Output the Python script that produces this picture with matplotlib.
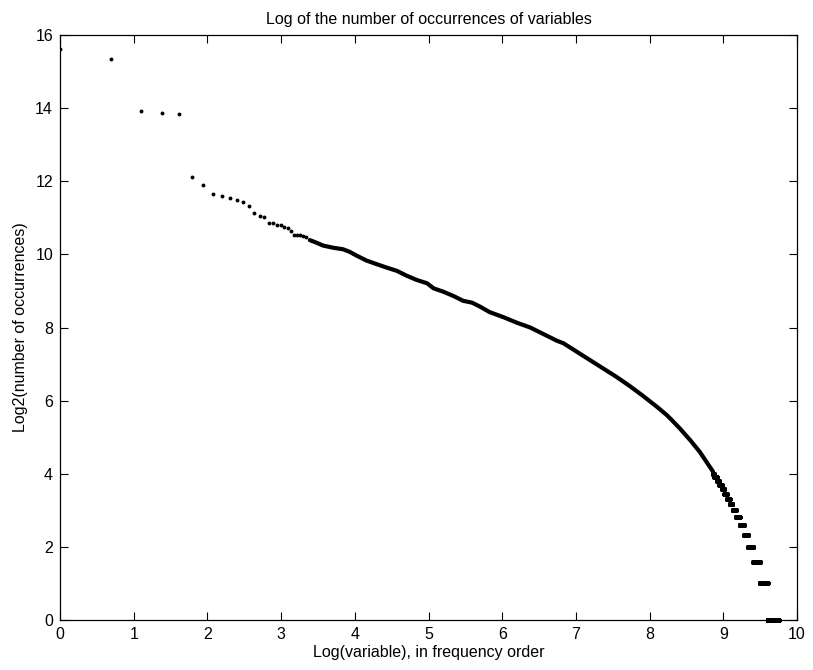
import numpy as np
import matplotlib
matplotlib.use("Agg")
import matplotlib.pyplot as plt

plt.rcParams['font.family'] = ['Liberation Sans', 'DejaVu Sans']

# Head: log2(count) for the most frequent variables, ranks 1..28
head_log2 = [15.61, 15.34, 13.91, 13.88, 13.85, 12.12, 11.90, 11.66, 11.59, 11.55,
             11.50, 11.43, 11.33, 11.12, 11.06, 11.01, 10.87, 10.85, 10.80, 10.79,
             10.74, 10.72, 10.63, 10.53, 10.52, 10.52, 10.51, 10.48]

# Middle: curve samples (log rank, log2 count)
mid_x = [3.39, 3.48, 3.57, 3.71, 3.84, 3.93, 4.03, 4.16, 4.30, 4.43, 4.57, 4.70,
         4.84, 4.98, 5.07, 5.20, 5.34, 5.47, 5.59, 5.70, 5.83, 6.02, 6.20, 6.38,
         6.56, 6.74, 6.83, 7.01, 7.19, 7.37, 7.55, 7.73, 7.91, 8.10, 8.23, 8.30,
         8.41, 8.55, 8.68, 8.77, 8.86]
mid_y = [10.39, 10.32, 10.24, 10.18, 10.14, 10.07, 9.96, 9.83, 9.73, 9.64, 9.55, 9.42,
         9.30, 9.21, 9.07, 8.98, 8.86, 8.73, 8.68, 8.57, 8.42, 8.28, 8.13, 8.00,
         7.82, 7.64, 7.57, 7.34, 7.11, 6.88, 6.65, 6.40, 6.13, 5.83, 5.61, 5.47,
         5.24, 4.92, 4.60, 4.33, 4.06]

# Tail: number of variables with at least c occurrences (last rank of each count)
tail_counts = [1, 2, 3, 4, 5, 6, 7, 8, 9, 10, 11, 12, 13, 14, 15, 16]
tail_last_rank = [17150, 14765, 13300, 12150, 11330, 10720, 10100, 9610, 9180,
                  8820, 8510, 8220, 7940, 7670, 7410, 7160]
tail_first_rank_16 = 7000

xticks = list(range(0, 11))
yticks = list(range(0, 17, 2))

FS = 11.5

fig = plt.figure(figsize=(8.13, 6.70), dpi=100)
ax = fig.add_axes([60/813, 50/670, (797-60)/813, (620-35)/670])

# head points
ranks = np.arange(1, len(head_log2) + 1)
ax.plot(np.log(ranks), head_log2, 'o', color='black', markersize=2.8, markeredgewidth=0)

# middle dense section
ax.plot(mid_x, mid_y, '-', color='black', linewidth=3.0, solid_capstyle='round')

# tail plateaus: each rank plotted
for i, c in enumerate(tail_counts):
    last = tail_last_rank[i]
    first = tail_last_rank[i + 1] + 1 if i + 1 < len(tail_last_rank) else tail_first_rank_16
    r = np.arange(first, last + 1)
    ax.plot(np.log(r), np.full(r.shape, np.log2(c)), 'o', color='black',
            markersize=3.2, markeredgewidth=0, clip_on=False)

ax.set_xlim(0, 10)
ax.set_ylim(0, 16)
ax.set_xticks(xticks)
ax.set_yticks(yticks)
ax.tick_params(direction='in', length=6, width=0.8, top=True, right=True,
               labelsize=FS, pad=5)
for s in ax.spines.values():
    s.set_linewidth(0.9)

ax.set_title('Log of the number of occurrences of variables', fontsize=FS, pad=8)
ax.set_xlabel('Log(variable), in frequency order', fontsize=FS, labelpad=2)
ax.set_ylabel('Log2(number of occurrences)', fontsize=FS, labelpad=5)

fig.savefig('out.png', dpi=100)
